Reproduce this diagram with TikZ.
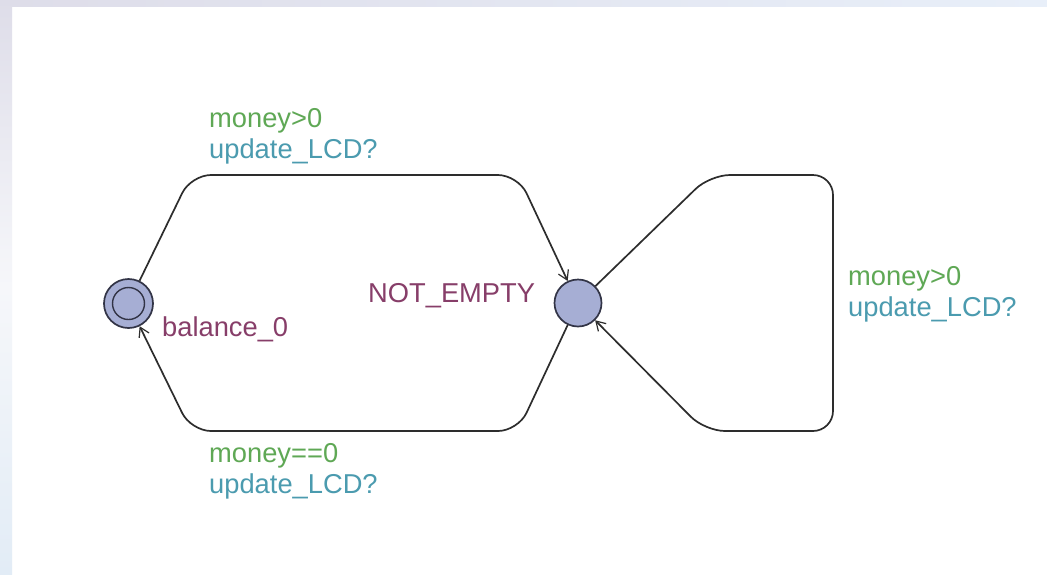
\documentclass[tikz,border=0pt]{standalone}
\usepackage{fontspec}
\setmainfont{Liberation Sans}
\usetikzlibrary{arrows.meta}
\definecolor{locfill}{RGB}{166,174,212}
\definecolor{locline}{RGB}{50,52,70}
\definecolor{edgecol}{RGB}{45,45,45}
\definecolor{namecol}{RGB}{135,62,105}
\definecolor{guardcol}{RGB}{95,168,85}
\definecolor{synccol}{RGB}{75,155,175}
\definecolor{bgA}{RGB}{222,221,233}
\definecolor{bgB}{RGB}{246,247,250}
\definecolor{bgC}{RGB}{226,236,246}
\definecolor{bgD}{RGB}{232,239,249}
\begin{document}
\begin{tikzpicture}[x=1pt,y=-1pt,
  loc/.style={circle,draw=locline,fill=locfill,line width=1.7pt,inner sep=0pt,minimum size=#1},
  inloc/.style={circle,draw=locline,line width=1.4pt,inner sep=0pt,minimum size=#1},
  edge/.style={draw=edgecol,line width=1.7pt,rounded corners=20pt,-{Straight Barb[length=9pt,width=11pt,line width=1.2pt]}},
  lbl/.style={anchor=base west,inner sep=0pt,font=\fontsize{27.3}{32}\selectfont},
  namelbl/.style={lbl,text=namecol},
  guardlbl/.style={lbl,text=guardcol},
  synclbl/.style={lbl,text=synccol}]
\useasboundingbox (0,0) rectangle (1047,574);
\fill[white] (0,0) rectangle (1047,574);
\shade[left color=bgA,right color=bgD] (0,0) rectangle (1047,6);
\shade[top color=bgA,bottom color=bgC,middle color=bgB] (0,0) rectangle (12,574);

% locations
\node[loc=49pt] (b0) at (128.5,303.5) {};
\node[inloc=32pt] (b0in) at (128.5,303.5) {};
\node[loc=47pt] (ne) at (578,303) {};
\node[namelbl] (b0name) at (162,336) {balance\_0};
\node[namelbl] (nename) at (368,302) {NOT\_EMPTY};

% nails
\coordinate (t1) at (191,175);
\coordinate (t2) at (518,175);
\coordinate (u1) at (518,431);
\coordinate (u2) at (191,431);
\coordinate (s1) at (710,175);
\coordinate (s2) at (833,175);
\coordinate (s3) at (833,431);
\coordinate (s4) at (705,431);

% edges
\draw[edge] (b0) -- (t1) -- (t2) -- (ne);
\draw[edge] (ne) -- (u1) -- (u2) -- (b0);
\draw[edge] (ne) -- (s1) -- (s2) -- (s3) -- (s4) -- (ne);

% edge labels
\node[guardlbl] (g1) at (209,127) {money>0};
\node[synclbl] (y1) at (209,158) {update\_LCD?};
\node[guardlbl] (g2) at (209,462) {money==0};
\node[synclbl] (y2) at (209,493) {update\_LCD?};
\node[guardlbl] (g3) at (848,285) {money>0};
\node[synclbl] (y3) at (848,316) {update\_LCD?};
\end{tikzpicture}
\end{document}
